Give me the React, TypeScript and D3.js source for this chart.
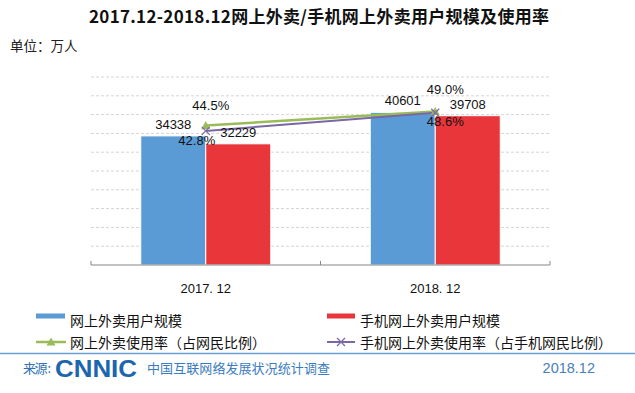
import * as d3 from 'd3';

const categories = ['2017. 12', '2018. 12'];
const onlineUsers = [34338, 40601];
const mobileUsers = [32229, 39708];
const onlineRate = [44.5, 49.0];
const mobileRate = [42.8, 48.6];
const barNames = ['网上外卖用户规模', '手机网上外卖用户规模'];
const lineNames = ['网上外卖使用率（占网民比例）', '手机网上外卖使用率（占手机网民比例）'];
const title = '2017.12-2018.12网上外卖/手机网上外卖用户规模及使用率';
const unitText = '单位：万人';
const sourceText = '来源 :';
const surveyText = '中国互联网络发展状况统计调查';
const dateText = '2018.12';

const W = 635;
const H = 393;
const left = 91, right = 550, top = 77, bottom = 265;
const cjk = '"Noto Sans CJK SC", "Microsoft YaHei", sans-serif';
const arial = '"Liberation Sans", Arial, sans-serif';

const barColors = ['#5b9bd5', '#e8363b'];
const lineColors = ['#9bbb59', '#7a68a6'];

const triPath = (cx, cy, r = 4.5) =>
  `M${cx},${cy - r}L${cx + r},${cy + r * 0.8}L${cx - r},${cy + r * 0.8}Z`;
const crossPath = (cx, cy, r = 4) =>
  `M${cx - r},${cy - r}L${cx + r},${cy + r}M${cx - r},${cy + r}L${cx + r},${cy - r}`;

export default function App() {
  const x = d3.scaleBand().domain(categories).range([left, right]).padding(0);
  const bw = x.bandwidth();
  const inner = d3.scaleBand().domain(barNames).range([bw / 2 - 65, bw / 2 + 65]);
  const y = d3.scaleLinear().domain([0, 50000]).range([bottom, top]);
  const yr = d3.scaleLinear().domain([0, 60]).range([bottom, top]);
  const cx = (c) => x(c) + bw / 2;

  const barData = [onlineUsers, mobileUsers];
  const rateData = [onlineRate, mobileRate];
  const line = d3.line().x((d) => d[0]).y((d) => d[1]);

  return (
    <svg width={W} height={H} style={{ position: 'fixed', left: 0, top: 0, background: '#fff' }}>
      <rect width={W} height={H} fill="#fff" />
      <text x={319} y={23} textAnchor="middle" fontFamily={cjk} fontWeight="bold" fontSize={17}
        textLength={460} lengthAdjust="spacing" fill="#111">{title}</text>
      <text x={10} y={51} fontFamily={cjk} fontSize={13.5} fill="#222">{unitText}</text>

      {y.ticks(10).filter((t) => t > 0).map((t) => (
        <line key={t} x1={left} x2={right} y1={y(t)} y2={y(t)} stroke="#d4d4d4" strokeDasharray="3,2" />
      ))}

      {barData.map((vals, s) =>
        categories.map((c, i) => (
          <rect key={`${s}-${i}`} x={x(c) + inner(barNames[s])} y={y(vals[i])}
            width={inner.bandwidth()} height={bottom - y(vals[i])}
            fill={barColors[s]} stroke="#fff" strokeWidth={1} />
        ))
      )}

      <line x1={left} x2={right} y1={bottom} y2={bottom} stroke="#868686" />
      {[left, (left + right) / 2, right].map((t) => (
        <line key={t} x1={t} x2={t} y1={bottom - 4} y2={bottom} stroke="#868686" />
      ))}
      {categories.map((c) => (
        <text key={c} x={cx(c)} y={293} textAnchor="middle" fontFamily={arial} fontSize={13} fill="#111">{c}</text>
      ))}

      {rateData.map((vals, s) => (
        <path key={s} d={line(categories.map((c, i) => [cx(c), yr(vals[i])]))}
          fill="none" stroke={lineColors[s]} strokeWidth={s === 0 ? 2.5 : 2} />
      ))}
      {categories.map((c, i) => (
        <g key={c}>
          <path d={triPath(cx(c), yr(onlineRate[i]))} fill={lineColors[0]} />
          <path d={crossPath(cx(c), yr(mobileRate[i]))} stroke={lineColors[1]} strokeWidth={1.2} />
        </g>
      ))}

      {barData.map((vals, s) =>
        categories.map((c, i) => (
          <text key={`bl${s}-${i}`} x={x(c) + inner(barNames[s]) + inner.bandwidth() / 2}
            y={y(vals[i]) - 7} textAnchor="middle" fontFamily={arial} fontSize={13} fill="#111">{vals[i]}</text>
        ))
      )}
      {categories.map((c, i) => (
        <g key={`rl${c}`} fontFamily={arial} fontSize={13} fill="#111">
          <text x={cx(c) + (i === 0 ? 5 : 10)} y={yr(onlineRate[i]) - (i === 0 ? 16 : 17)} textAnchor="middle">{onlineRate[i].toFixed(1)}%</text>
          <text x={cx(c) + (i === 0 ? -9 : 10)} y={yr(mobileRate[i]) + (i === 0 ? 14 : 13)} textAnchor="middle">{mobileRate[i].toFixed(1)}%</text>
        </g>
      ))}

      <g fontFamily={cjk} fontSize={14} fill="#111">
        <rect x={36} y={313.5} width={29} height={5} fill={barColors[0]} />
        <text x={70} y={325.5}>{barNames[0]}</text>
        <rect x={327} y={313.5} width={28} height={5} fill={barColors[1]} />
        <text x={360} y={325.5}>{barNames[1]}</text>
        <line x1={36} x2={66} y1={342} y2={342} stroke={lineColors[0]} strokeWidth={2.5} />
        <path d={triPath(51, 342)} fill={lineColors[0]} />
        <text x={70} y={348}>{lineNames[0]}</text>
        <line x1={327} x2={355} y1={342} y2={342} stroke={lineColors[1]} strokeWidth={2} />
        <path d={crossPath(341, 342)} stroke={lineColors[1]} strokeWidth={1.2} />
        <text x={360} y={348}>{lineNames[1]}</text>
      </g>

      <line x1={0} x2={W} y1={353.5} y2={353.5} stroke="#6a9fd4" strokeWidth={1.5} />
      <text x={23} y={373} fontFamily={cjk} fontSize={13} fill="#2f72b5"
        textLength={28} lengthAdjust="spacing">{sourceText}</text>
      <text x={55} y={377} fontFamily={arial} fontWeight="bold" fontSize={23} fill="#1b66ad"
        textLength={82} lengthAdjust="spacingAndGlyphs">CNNIC</text>
      <text x={147} y={373} fontFamily={cjk} fontSize={13} fill="#3a7cc0"
        textLength={183} lengthAdjust="spacing">{surveyText}</text>
      <text x={595} y={373} textAnchor="end" fontFamily={arial} fontSize={14.5} fill="#4a80b8">{dateText}</text>
    </svg>
  );
}
